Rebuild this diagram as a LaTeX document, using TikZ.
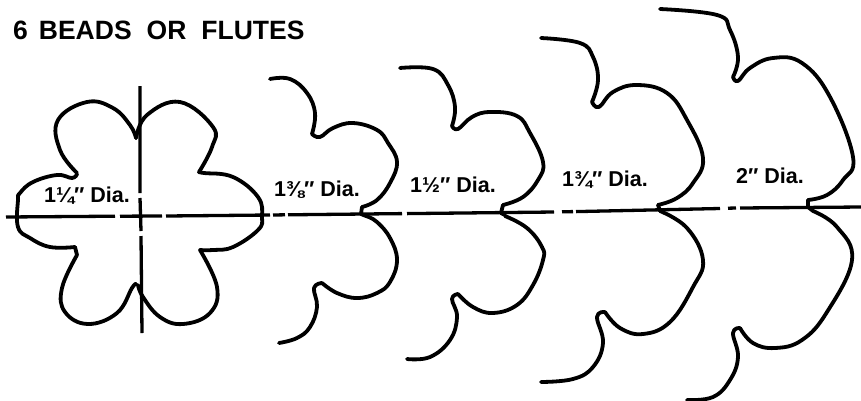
\documentclass[tikz,border=0pt]{standalone}
\usepackage{fontspec}
\setmainfont{Liberation Sans}
\tikzset{
  curve/.style={line width=3.8pt,line cap=round,line join=round,black},
  axis/.style={line width=3.3pt,black},
  lbl/.style={font=\bfseries\fontsize{21.5}{23}\selectfont,inner sep=0pt,black},
  ttl/.style={font=\bfseries\fontsize{26.5}{28}\selectfont,inner sep=0pt,anchor=west,black}
}
\newcommand{\lobe}[1]{plot[smooth,tension=0.7] coordinates {#1}}
\begin{document}
\begin{tikzpicture}[x=1pt,y=-1pt]
\useasboundingbox (0,0) rectangle (861,400);
\node[ttl] (title) at (13,30) {6\hspace{11pt}BEADS\hspace{15pt}OR\hspace{15pt}FLUTES};
% axes
\draw[axis] (6,217) -- (115,216.2) (120,216.2) -- (162,216) (166,216) -- (270,215) (273,215) -- (285,214.8) (288,214.8) -- (402,213.6) (407,213.6) -- (554,212) (562,211.8) -- (573,211.6) (576,211.6) -- (720,208.5) (728,208.2) -- (736,208) (740,208) -- (861,207);
\draw[axis] (140,86) -- (140,193) (140,198) -- (141,231) (141,236) -- (142,333);
% flower
\draw[curve] \lobe{(136,138) (130,125) (113,108) (87,102) (58,120) (60,150) (77,173)};
\draw[curve] \lobe{(77,174) (72,178) (57,175) (33,182) (20,193) (18,200) (18,227) (30,238) (50,247) (75,247)};
\draw[curve] (75,247) -- (77,255);
\draw[curve] \lobe{(77,255) (62,288) (65,312) (88,324) (117,313) (132,288) (136,284)};
\draw[curve] \lobe{(138,285) (143,297) (160,317) (183,324) (210,313) (217,287) (200,250)};
\draw[curve] \lobe{(200,250) (213,250) (233,247) (258,230) (262,217) (258,197) (233,177) (204,173) (199,172)};
\draw[curve] \lobe{(199,172) (212,147) (213,127) (180,102) (147,115) (136,138)};
% 1 3/8
\draw[curve] \lobe{(270,79) (290,79) (307,93) (315,113) (312,134)};
\draw[curve] \lobe{(312,134) (320,137) (333,128) (353,123) (377,130) (388,143) (397,162) (390,183) (377,200) (362,207)};
\draw[curve] (362,207) -- (361,214) -- (366,216);
\draw[curve] \lobe{(366,216) (377,222) (390,238) (397,260) (390,282) (377,293) (357,298) (337,293) (322,283)};
\draw[curve] \lobe{(322,283) (314,288) (317,307) (310,327) (297,338) (279,343)};
% 1 1/2
\draw[curve] \lobe{(400,68) (433,69) (448,85) (455,107) (452,126)};
\draw[curve] \lobe{(452,126) (458,129) (472,117) (490,112) (517,116) (530,133) (543,162) (538,180) (523,197) (503,205)};
\draw[curve] (503,205) -- (501,213) -- (505,215);
\draw[curve] \lobe{(505,216) (527,228) (542,247) (543,260) (533,285) (517,305) (493,313) (473,307) (458,294)};
\draw[curve] \lobe{(458,294) (452,299) (457,317) (450,340) (430,357) (407,359)};
% 1 3/4
\draw[curve] \lobe{(541,38) (580,43) (593,57) (598,80) (592,102)};
\draw[curve] \lobe{(592,102) (599,107) (613,92) (637,85) (667,93) (687,120) (703,158) (693,183) (677,198) (658,205)};
\draw[curve] (658,205) -- (660,211);
\draw[curve] \lobe{(660,211) (687,228) (703,260) (693,287) (670,322) (643,334) (620,328) (605,312)};
\draw[curve] \lobe{(605,312) (597,317) (603,343) (593,367) (573,379) (541,382)};
% 2
\draw[curve] \lobe{(660,9) (717,15) (730,30) (738,57) (733,77)};
\draw[curve] \lobe{(733,77) (738,81) (750,68) (773,58) (802,63) (830,97) (853,157) (843,180) (827,195) (808,200)};
\draw[curve] (808,200) -- (808,207) -- (813,211);
\draw[curve] \lobe{(813,211) (837,227) (852,260) (827,312) (802,340) (775,348) (753,343) (740,328)};
\draw[curve] \lobe{(740,328) (733,333) (738,357) (730,380) (713,397) (687,400)};
% labels
\node[lbl] (a) at (87,196) {1¼″ Dia.};
\node[lbl] (b) at (317,190) {1⅜″ Dia.};
\node[lbl] (c) at (453,185) {1½″ Dia.};
\node[lbl] (d) at (605,180) {1¾″ Dia.};
\node[lbl] (e) at (770,176) {2″ Dia.};
\end{tikzpicture}
\end{document}
